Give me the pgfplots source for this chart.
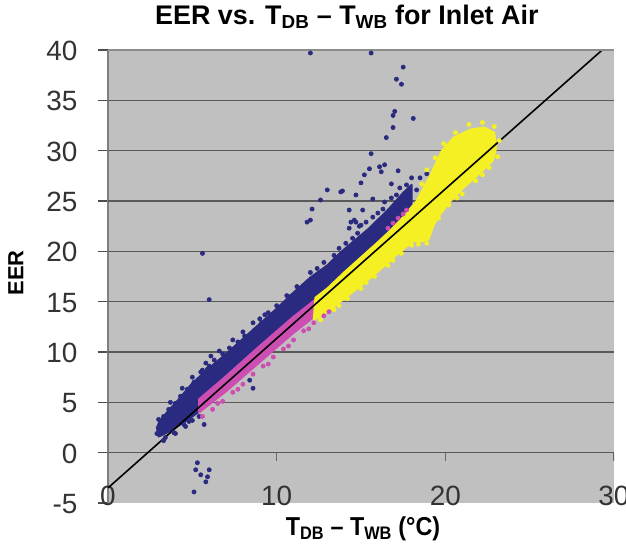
\documentclass[border=0pt]{standalone}
\usepackage{pgfplots}
\pgfplotsset{compat=1.18}
\usepackage{fontspec}
\setmainfont{Liberation Sans}
\definecolor{plotgray}{RGB}{192,192,192}
\definecolor{navyp}{RGB}{42,42,128}
\definecolor{magp}{RGB}{205,78,178}
\definecolor{yelp}{RGB}{245,240,35}
\pgfplotsset{
  dots/.style={only marks, mark=*, mark size=2.1bp,
    mark options={draw=#1, fill=#1, line width=0.6bp}},
}

\begin{document}
\begin{tikzpicture}
\begin{axis}[
    name=ax,
    scale only axis,
    width=506bp, height=453bp,
    xmin=0, xmax=30, ymin=-5, ymax=40,
    axis lines*=left,
    axis background/.style={fill=plotgray},
    x axis line style={draw=none},
    y axis line style={black!50, line width=1.2bp},
    tick align=outside,
    major tick length=10bp,
    xtick={0,10,20,30},
    ytick={-5,0,...,40},
    xtick style={draw=none},
    ytick style={black!70, line width=1.2bp},
    extra y ticks={0,5,...,35},
    extra y tick labels={},
    extra y tick style={ymajorgrids=true, major tick length=0pt,
        grid style={black!65, line width=1.4bp}},
    /pgf/number format/assume math mode=true,
    ticklabel style={font=\fontsize{28}{32}\selectfont, text=black!80},
    xticklabel style={anchor=base, yshift=8bp},
    yticklabel style={xshift=-17bp, yshift=-1bp},
    title={\textbf{EER vs. T\textsubscript{DB} -- T\textsubscript{WB} for Inlet Air}},
    title style={font=\fontsize{27}{30}\selectfont, at={(axis description cs:0.472,1.044)}, anchor=base},
    xlabel={\scalebox{0.9}[1]{\textbf{T\textsubscript{DB} -- T\textsubscript{WB} (°C)}}},
    xlabel style={font=\fontsize{26}{30}\selectfont, at={(axis description cs:0.504,-0.071)}, anchor=base},
    ylabel={\textbf{EER}},
    ylabel style={font=\fontsize{22}{26}\selectfont, at={(axis description cs:-0.182,0.508)}, anchor=center},
    clip=true,
]
% navy core band
\addplot[fill=navyp, draw=navyp, line width=2bp, line join=round] coordinates {
 (3.0,1.6) (3.5,2.0) (4.5,3.0) (5.5,4.2) (7,6.4) (9,9.4) (11,12.4) (12.5,14.6)
 (14,16.8) (16,19.8) (17.5,22.2) (18.0,24.0)
 (18.0,26.6) (17.5,25.8) (16.7,24.3) (15.5,22.3) (14.5,20.9) (13.8,19.9) (13.0,18.6)
 (12.0,17.4) (11.0,15.9) (10.0,14.3) (9.0,12.8) (8.0,11.3) (7.0,9.8) (6.0,8.4)
 (5.0,6.9) (4.2,5.3) (3.6,4.2) (3.1,3.2) (2.9,2.5)} -- cycle;
% navy scatter along the band
\addplot[dots=navyp] coordinates {
 (2.9,1.9) (3.1,2.9) (3.3,3.6) (3.6,4.3) (4.0,4.9) (4.3,5.6) (4.7,6.3) (5.1,7.0)
 (5.5,8.0) (5.9,8.3) (6.3,9.2) (6.8,9.8) (7.2,10.4) (7.7,11.0) (8.1,11.6) (8.7,12.2)
 (9.1,12.9) (9.7,13.6) (10.3,14.3) (10.8,15.1) (11.3,15.8) (11.7,16.5)
 (12.4,18.3) (13.4,19.6) (14.1,20.8) (14.8,21.8) (15.3,22.9) (16.0,23.8) (16.4,24.9)
 (17.1,25.6) (17.7,26.6) (18.0,27.3) (18.3,26.1)
 (3.4,1.5) (3.9,2.0) (4.5,2.8) (3.3,1.2) (4.0,1.9) (4.6,2.6) (5.0,3.2)
 (3.0,3.3) (3.7,5.0) (4.4,6.4) (5.0,7.5) (6.1,9.6) (6.6,10.1) (7.4,11.2) (8.0,12.0)
 (9.0,13.3) (10.0,14.6) (10.6,15.6) (11.2,16.5) (12.0,17.9) (12.8,18.9) (13.7,20.3)
 (14.5,21.3) (15.0,22.6) (15.7,23.4) (16.3,24.2) (16.8,25.3) (17.3,26.3)};
% navy outliers
\addplot[dots=navyp] coordinates {
 (12.0,39.7) (15.6,39.7) (17.5,38.3) (17.1,37.1) (17.4,36.6) (17.0,33.9) (16.9,33.5)
 (18.1,33.2) (16.9,32.3) (16.5,31.3) (15.6,29.7) (16.1,28.4) (16.2,27.9) (16.4,28.6)
 (17.2,28.0) (15.2,27.6) (15.0,26.8) (16.8,26.7) (15.5,28.2) (13.9,26.0) (14.7,25.6)
 (18.5,27.3) (18.9,27.7) (14.3,24.1) (15.1,24.1) (14.4,22.9) (14.6,23.1) (15.7,25.2)
 (12.6,25.1) (11.8,22.9) (12.0,23.1) (12.1,24.2) (13.0,26.1) (13.8,25.9) (5.6,19.8)
 (6.0,15.2) (14.7,22.9) (14.9,22.5) (14.3,22.3) (8.6,12.9) (9.3,13.7) (9.5,13.9)
 (10.8,15.5) (8.6,6.4) (8.4,7.2) (5.4,3.6) (5.7,2.8) (4.8,3.1) (5.8,8.9) (5.6,8.2)
 (6.0,8.6) (5.3,-1.0) (5.2,-1.7) (6.0,-1.7) (5.9,-2.4) (5.8,-2.9) (5.1,-3.9) (5.5,-2.2)};
% magenta core band
\addplot[fill=magp, draw=magp, line width=2bp, line join=round] coordinates {
 (5.4,4.0) (7,6.1) (9,9.0) (11,11.9) (12.6,14.0)
 (12.6,15.6) (11,13.5) (9,10.6) (7,7.6) (5.4,5.3)} -- cycle;
\addplot[dots=magp] coordinates {
 (5.6,3.6) (6.2,4.3) (6.8,5.1) (7.4,6.0) (8.0,6.8) (8.6,7.8) (9.2,8.6) (9.8,9.5)
 (10.4,10.3) (11.0,11.2) (11.6,12.1) (12.2,12.9) (12.8,13.6) (13.1,14.0)
 (6.5,4.9) (7.7,6.3) (9.5,8.8) (10.7,10.6) (11.9,12.3)
 (16.6,22.3) (16.9,22.8) (17.2,23.3) (17.5,23.7) (17.7,24.1)};
% yellow core band
\addplot[fill=yelp, draw=yelp, line width=2bp, line join=round] coordinates {
 (12.2,13.2) (13,14.0) (14,15.3) (15,16.6) (16,18.0) (17,19.5) (17.7,20.5)
 (18.1,21.0) (18.6,21.0) (19.0,21.2) (19.3,22.6) (19.7,23.7) (20.3,25.0) (21,26.2)
 (22,27.7) (22.8,29.0) (23.0,30.2)
 (22.9,31.8) (22.3,32.3) (21.5,32.1) (20.5,31.3) (19.8,30.0) (19.1,27.5) (18.3,25.0)
 (17.5,23.4) (16.7,22.0) (16,20.9) (15,19.4) (14,17.9) (13,16.3) (12.3,15.4)} -- cycle;
\addplot[dots=yelp] coordinates {
 (12.6,13.2) (13.4,14.2) (14.2,15.3) (15.0,16.3) (15.8,17.5) (16.6,18.6) (17.4,19.8)
 (18.0,20.6) (18.4,20.7) (18.9,20.8) (19.6,23.3) (20.2,24.6) (21.0,25.7) (21.8,27.0)
 (22.6,28.3) (23.1,29.4) (23.2,31.0) (22.9,32.4) (22.2,32.8) (21.4,32.6) (20.6,31.8)
 (19.9,30.7) (19.4,29.3) (18.9,28.1) (18.6,26.7) (13.7,14.6) (15.3,16.9) (16.9,19.1)
 (20.7,25.3) (22.2,27.6)};
% trend line
\addplot[black, line width=1.6bp, no marks] coordinates {(0,-3.5) (29.3,40)};
% top edge and x tick marks on the zero line
\addplot[black!45, line width=1.4bp, no marks] coordinates {(0,40) (30,40)};
\addplot[ycomb, black!60, line width=1.2bp, no marks] coordinates {(10,-0.8) (20,-0.8) (30,-0.8)};
\end{axis}
\pgfresetboundingbox
\path ([xshift=-108bp,yshift=-42bp]ax.south west) rectangle ([xshift=12bp,yshift=50bp]ax.north east);
\end{tikzpicture}
\end{document}
